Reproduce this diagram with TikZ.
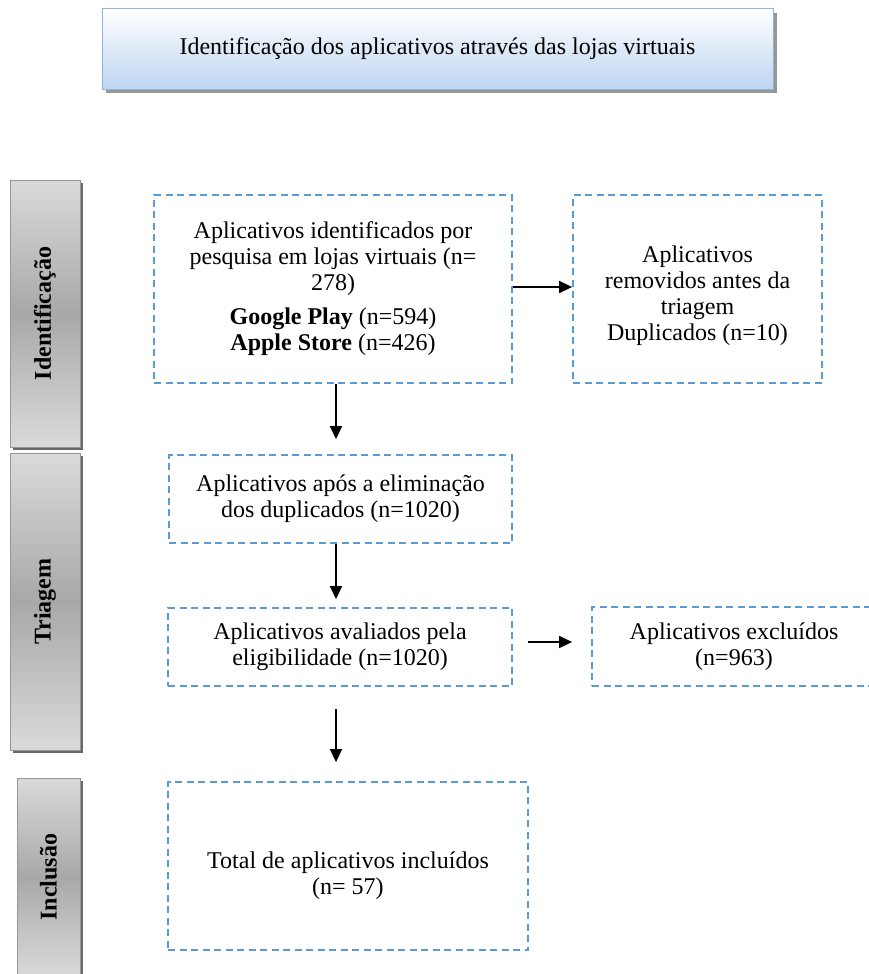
\documentclass[tikz,border=0pt]{standalone}
\usepackage{fontspec}
\setmainfont{Liberation Serif}
\usetikzlibrary{arrows.meta,shadows}
\definecolor{dashblue}{RGB}{91,155,213}
\definecolor{sidelight}{RGB}{218,218,218}
\definecolor{sidedark}{RGB}{168,168,168}
\definecolor{sideborder}{RGB}{150,150,150}
\definecolor{shadowgray}{RGB}{105,105,105}
\definecolor{titleblue}{RGB}{190,213,240}
\definecolor{titleborder}{RGB}{141,179,226}
\tikzset{
  dbox/.style={draw=dashblue, line width=1.8pt, dash pattern=on 7pt off 4.5pt,
    align=center, inner sep=0pt, font=\fontsize{24}{26}\selectfont},
  sidebox/.style={draw=sideborder, line width=0.8pt, inner sep=0pt,
    top color=sidelight, bottom color=sidelight, middle color=sidedark,
    drop shadow={shadow xshift=3pt, shadow yshift=-3pt, fill=shadowgray, opacity=1},
    font=\fontsize{24}{26}\selectfont\bfseries},
  titlebox/.style={draw=titleborder, line width=1pt, inner sep=0pt,
    top color=white, bottom color=titleblue,
    drop shadow={shadow xshift=4pt, shadow yshift=-4pt, fill=shadowgray!70, opacity=1},
    font=\fontsize{24}{26}\selectfont},
  arr/.style={-{Triangle[length=13pt,width=12pt]}, line width=1.5pt, black}
}
\begin{document}
\begin{tikzpicture}[x=1pt,y=-1pt]
\useasboundingbox (0,0) rectangle (868,974);

% title
\node[titlebox, minimum width=671pt, minimum height=80pt] (T) at (437.5,49)
  {Identificação dos aplicativos através das lojas virtuais};

% side boxes
\node[sidebox, minimum width=70pt, minimum height=267pt] (S1) at (45,313.5)
  {\rotatebox{90}{Identificação}};
\node[sidebox, minimum width=70pt, minimum height=297pt] (S2) at (45,601.5)
  {\rotatebox{90}{Triagem}};
\node[sidebox, minimum width=63pt, minimum height=198pt] (S3) at (48.5,877)
  {\rotatebox{90}{Inclusão}};

% main boxes
\node[dbox, minimum width=358pt, minimum height=188pt] (A) at (333,289)
  {Aplicativos identificados por\\ pesquisa em lojas virtuais (n=\\ 278)\\[8pt]
   \textbf{Google Play} (n=594)\\ \textbf{Apple Store} (n=426)};
\node[dbox, minimum width=249pt, minimum height=188pt] (B) at (697.5,289)
  {\rule{0pt}{31pt}\\[-26pt]Aplicativos\\ removidos antes da\\ triagem\\ Duplicados (n=10)};
\node[dbox, minimum width=343pt, minimum height=88pt] (C) at (340.5,499)
  {Aplicativos após a eliminação\\ dos duplicados (n=1020)};
\node[dbox, minimum width=344pt, minimum height=78pt] (D) at (340,647)
  {Aplicativos avaliados pela\\ eligibilidade (n=1020)};
\node[dbox, minimum width=284pt, minimum height=79pt] (E) at (734,646.5)
  {Aplicativos excluídos\\ (n=963)};
\node[dbox, minimum width=360pt, minimum height=168pt] (F) at (348,866)
  {\rule{0pt}{37pt}\\[-26pt]Total de aplicativos incluídos\\ (n= 57)};

% connectors
\draw[arr] ([yshift=2pt]A.east) -- ([yshift=2pt]B.west);
\draw[arr, shorten >=15pt] ([xshift=3pt]A.south) -- ([xshift=3pt]A.south |- C.north);
\draw[arr, shorten >=8pt] ([xshift=-4.5pt]C.south) -- ([xshift=-4.5pt]C.south |- D.north);
\draw[arr, shorten <=15pt, shorten >=19pt] ([yshift=5pt]D.east) -- ([yshift=5pt]D.east -| E.west);
\draw[arr, shorten <=22pt, shorten >=19pt] ([xshift=-4pt]D.south) -- ([xshift=-4pt]D.south |- F.north);
\end{tikzpicture}
\end{document}
